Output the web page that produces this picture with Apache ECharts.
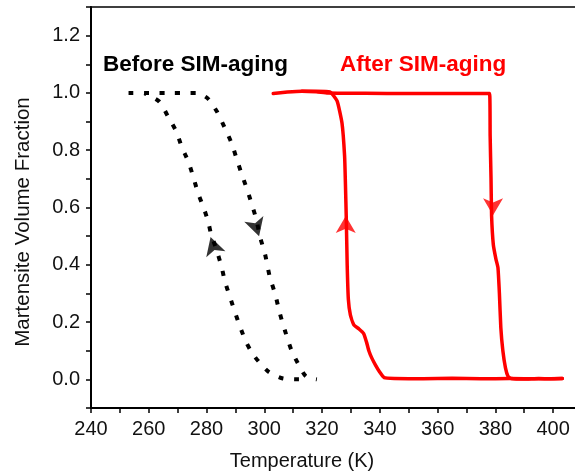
<!DOCTYPE html>
<html>
<head>
<meta charset="utf-8">
<script src="https://cdn.jsdelivr.net/npm/echarts@6/dist/echarts.min.js"></script>
<style>
  html, body { margin: 0; padding: 0; background: #fff; }
  #chart { width: 575px; height: 475px; }
</style>
</head>
<body>
<div id="chart"></div>
<script>
// Martensite volume fraction vs temperature, before and after SIM-aging.
// Each curve is [temperature (K), fraction] pairs.

// Before SIM-aging: heating branch (fraction falls)
const beforeHeating = [
  [253.0, 1.0], [260.0, 1.0], [268.0, 1.0], [276.5, 1.0], [280.4, 0.981],
  [283.7, 0.933], [286.4, 0.876], [288.7, 0.824], [290.4, 0.771], [292.1, 0.719],
  [293.9, 0.667], [295.6, 0.614], [297.3, 0.556], [298.5, 0.498], [300.2, 0.44],
  [301.9, 0.358], [303.7, 0.30], [305.4, 0.23], [307.1, 0.172], [309.4, 0.102],
  [312.3, 0.044], [314.5, 0.01], [318.2, 0.0]
];
// Before SIM-aging: cooling branch (fraction rises)
const beforeCooling = [
  [312.0, 0.0], [306.5, 0.003], [301.4, 0.027], [296.7, 0.079], [293.9, 0.126],
  [291.6, 0.184], [289.8, 0.236], [288.1, 0.288], [286.4, 0.341], [285.2, 0.393],
  [283.5, 0.451], [281.5, 0.51], [280.6, 0.55], [278.9, 0.602], [277.1, 0.649],
  [275.4, 0.707], [273.7, 0.760], [271.4, 0.812], [269.6, 0.864], [266.7, 0.917],
  [263.6, 0.970], [258.5, 0.999]
];
// After SIM-aging: heating branch
const afterHeating = [
  [303.1, 0.998], [308.0, 1.003], [313.0, 1.006], [318.0, 1.004], [322.0, 1.0],
  [335.0, 0.999], [350.0, 0.998], [365.0, 0.998], [378.0, 0.998], [378.2, 0.85],
  [378.5, 0.70], [378.7, 0.57], [379.3, 0.47], [380.2, 0.42], [380.9, 0.39],
  [381.4, 0.30], [381.9, 0.18], [382.6, 0.10], [383.5, 0.04], [384.4, 0.01],
  [385.5, 0.003], [390.0, 0.001], [395.0, 0.003], [399.0, 0.002], [403.2, 0.003]
];
// After SIM-aging: cooling branch
const afterCooling = [
  [403.2, 0.003], [395.0, 0.002], [385.0, 0.003], [375.0, 0.002], [365.0, 0.004],
  [355.0, 0.002], [345.0, 0.003], [341.5, 0.006], [340.0, 0.025], [338.5, 0.05],
  [337.2, 0.075], [336.2, 0.10], [335.4, 0.13], [334.4, 0.16], [332.8, 0.176],
  [331.0, 0.19], [329.8, 0.225], [329.1, 0.28], [328.7, 0.40], [328.4, 0.556],
  [328.1, 0.68], [327.8, 0.78], [326.9, 0.895], [325.2, 0.972], [322.7, 1.004],
  [318.0, 1.006], [313.0, 1.006]
];

// Direction arrows: [temperature, fraction, rotation in degrees]
const beforeArrows = [[281.4, 0.497, 17], [298.2, 0.50, 197]];
const afterArrows = [[328.2, 0.570, 0], [379.2, 0.573, 180]];

// Axis tick labels
const xTickLabels = [240, 260, 280, 300, 320, 340, 360, 380, 400];
const yTickLabels = ['0.0', '0.2', '0.4', '0.6', '0.8', '1.0', '1.2'];

const FONT = '"Liberation Sans", Arial, sans-serif';
const chart = echarts.init(document.getElementById('chart'), null, { renderer: 'canvas' });

function arrowData(list) {
  return list.map(a => ({ value: [a[0], a[1]], symbolRotate: a[2] }));
}

const axisCommon = {
  axisLine: { show: true, onZero: false, lineStyle: { color: '#000', width: 2 } },
  axisTick: { show: true, inside: false, length: 5, lineStyle: { color: '#000', width: 1.5 } },
  splitLine: { show: false },
};

chart.setOption({
  animation: false,
  backgroundColor: '#fff',
  grid: {
    left: 91, top: 7, right: -7, bottom: 67,
    outerBoundsMode: 'none', containLabel: false,
    show: true, borderColor: '#000', borderWidth: 1.5, backgroundColor: 'transparent'
  },
  xAxis: Object.assign({
    type: 'value', min: 240, max: 410, interval: 10,
    axisLabel: {
      margin: 11, fontSize: 20, color: '#111', fontFamily: FONT,
      formatter: v => xTickLabels.includes(Math.round(v)) && Math.abs(v - Math.round(v)) < 1e-6 ? String(Math.round(v)) : ''
    }
  }, axisCommon),
  yAxis: Object.assign({
    type: 'value', min: -0.1, max: 1.3, interval: 0.1,
    axisLabel: {
      margin: 11, fontSize: 20, color: '#111', fontFamily: FONT,
      formatter: v => {
        const s = (Math.round(v * 10) / 10).toFixed(1);
        return yTickLabels.includes(s) ? s : '';
      }
    }
  }, axisCommon),
  series: [
    {
      type: 'line', data: beforeHeating, showSymbol: false, smooth: 0.25,
      lineStyle: { color: '#000', width: 4, type: [5, 10.5], cap: 'butt' }, z: 2
    },
    {
      type: 'line', data: beforeCooling, showSymbol: false, smooth: 0.25,
      lineStyle: { color: '#000', width: 4, type: [5, 10.5], cap: 'butt' }, z: 2
    },
    {
      type: 'line', data: afterHeating, showSymbol: false, smooth: 0.15,
      lineStyle: { color: '#ff0000', width: 3.5, join: 'round', cap: 'round' }, z: 3
    },
    {
      type: 'line', data: afterCooling, showSymbol: false, smooth: 0.15,
      lineStyle: { color: '#ff0000', width: 3.5, join: 'round', cap: 'round' }, z: 3
    },
    {
      type: 'scatter', data: arrowData(beforeArrows), symbol: 'arrow', symbolSize: [15, 18],
      itemStyle: { color: '#000' }, z: 4
    },
    {
      type: 'scatter', data: arrowData(afterArrows), symbol: 'arrow', symbolSize: [15, 17],
      itemStyle: { color: '#ff0000' }, z: 4
    }
  ],
  graphic: [
    {
      type: 'text', left: 103, top: 53,
      style: { text: 'Before SIM-aging', font: 'bold 22.5px ' + FONT, fill: '#000' }
    },
    {
      type: 'text', left: 340, top: 53,
      style: { text: 'After SIM-aging', font: 'bold 22.5px ' + FONT, fill: '#ff0000' }
    },
    {
      type: 'text', x: 302, y: 461,
      style: { text: 'Temperature (K)', font: '20px ' + FONT, fill: '#111', align: 'center', verticalAlign: 'middle' }
    },
    {
      type: 'text', x: 23, y: 222, rotation: Math.PI / 2,
      style: { text: 'Martensite Volume Fraction', font: '20.5px ' + FONT, fill: '#111', align: 'center', verticalAlign: 'middle' }
    }
  ]
});
</script>
</body>
</html>
